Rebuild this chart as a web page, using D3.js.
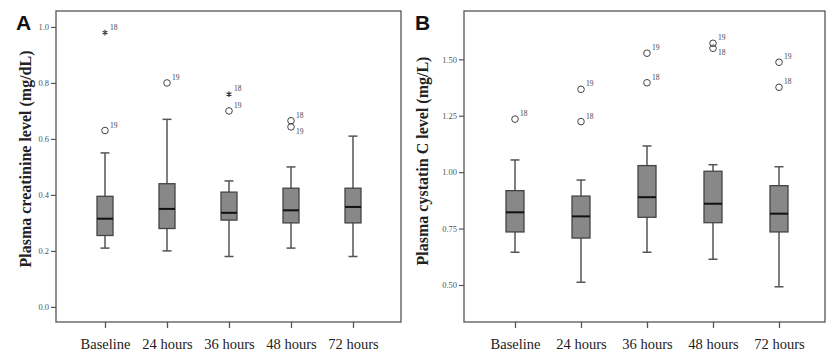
<!DOCTYPE html>
<html><head><meta charset="utf-8">
<script src="https://cdn.jsdelivr.net/npm/d3@7"></script>
<style>body{margin:0;background:#fff}svg{display:block}#c g.root{opacity:0.995}</style>
</head><body>
<svg id="c" width="830" height="351"></svg>
<script>
const categories = ["Baseline","24 hours","36 hours","48 hours","72 hours"];

// Panel A: plasma creatinine (mg/dL)
const creatWhiskerLow  = [0.21, 0.20, 0.18, 0.21, 0.18];
const creatQ1          = [0.255,0.28, 0.31, 0.30, 0.30];
const creatMedian      = [0.315,0.35, 0.336,0.345,0.357];
const creatQ3          = [0.395,0.44, 0.41, 0.424,0.424];
const creatWhiskerHigh = [0.55, 0.67, 0.45, 0.50, 0.61];
const creatOutCat   = ["Baseline","Baseline","24 hours","36 hours","36 hours","48 hours","48 hours"];
const creatOutValue = [0.98, 0.63, 0.80, 0.76, 0.70, 0.665, 0.643];
const creatOutId    = ["18","19","19","18","19","18","19"];
const creatOutType  = ["star","circle","circle","star","circle","circle","circle"];
const creatTicks = [0.0,0.2,0.4,0.6,0.8,1.0];

// Panel B: plasma cystatin C (mg/L)
const cysWhiskerLow  = [0.645,0.512,0.645,0.614,0.492];
const cysQ1          = [0.735,0.708,0.80, 0.776,0.735];
const cysMedian      = [0.822,0.804,0.889,0.86, 0.816];
const cysQ3          = [0.918,0.894,1.029,1.004,0.94];
const cysWhiskerHigh = [1.054,0.965,1.116,1.033,1.024];
const cysOutCat   = ["Baseline","24 hours","24 hours","36 hours","36 hours","48 hours","48 hours","72 hours","72 hours"];
const cysOutValue = [1.235,1.367,1.224,1.527,1.396,1.571,1.549,1.487,1.376];
const cysOutId    = ["18","19","18","19","18","19","18","19","18"];
const cysOutType  = ["circle","circle","circle","circle","circle","circle","circle","circle","circle"];
const cysTicks = [0.50,0.75,1.00,1.25,1.50];

const svg = d3.select("#c");
const root = svg.append("g").attr("class","root");
const serif = "'Liberation Serif','Times New Roman',serif";

function panel(o){
  const g = root.append("g");
  const x = d3.scalePoint().domain(categories).range([o.x0+o.padL, o.x1-o.padR]);
  const y = d3.scaleLinear().domain(o.domain).range([o.y1, o.y0]);

  // frame
  g.append("rect").attr("x",o.x0).attr("y",o.y0).attr("width",o.x1-o.x0).attr("height",o.y1-o.y0)
    .attr("fill","none").attr("stroke","#555").attr("stroke-width",1.3);

  // y axis
  const ya = g.append("g").attr("transform",`translate(${o.x0},0)`)
    .call(d3.axisLeft(y).tickValues(o.ticks).tickFormat(d3.format(o.fmt)).tickSize(5).tickPadding(2));
  ya.select(".domain").remove();
  ya.selectAll("line").attr("stroke","#555").attr("stroke-width",1.2);
  ya.selectAll("text").attr("font-family",serif).attr("font-size",8.5).attr("fill","#555");

  // x axis
  const xa = g.append("g").attr("transform",`translate(0,${o.y1})`)
    .call(d3.axisBottom(x).tickSize(6));
  xa.select(".domain").remove();
  xa.selectAll("line").attr("stroke","#555").attr("stroke-width",1.3);
  xa.selectAll("text").attr("y",27).attr("dy",0).attr("font-family",serif).attr("font-size",14.5).attr("fill","#222");

  // y title
  g.append("text").attr("transform",`translate(${o.titleX},${o.titleY}) rotate(-90)`)
    .attr("text-anchor","middle").attr("font-family",serif).attr("font-weight","bold")
    .attr("font-size",16).attr("fill","#222").text(o.title);

  // panel letter
  g.append("text").attr("x",o.letterX).attr("y",30).attr("font-family","'Liberation Sans',Arial,sans-serif")
    .attr("font-weight","bold").attr("font-size",21).attr("fill","#111").text(o.letter);

  // boxes
  const bw = o.boxW, cw = o.capW;
  categories.forEach((c,i)=>{
    const cx = x(c);
    const bg = g.append("g");
    bg.append("line").attr("x1",cx).attr("x2",cx).attr("y1",y(o.wl[i])).attr("y2",y(o.q1[i]))
      .attr("stroke","#555").attr("stroke-width",1.5);
    bg.append("line").attr("x1",cx).attr("x2",cx).attr("y1",y(o.q3[i])).attr("y2",y(o.wh[i]))
      .attr("stroke","#555").attr("stroke-width",1.5);
    [o.wl[i],o.wh[i]].forEach(v=>bg.append("line").attr("x1",cx-cw/2).attr("x2",cx+cw/2)
      .attr("y1",y(v)).attr("y2",y(v)).attr("stroke","#555").attr("stroke-width",1.5));
    bg.append("rect").attr("x",cx-bw/2).attr("y",y(o.q3[i])).attr("width",bw)
      .attr("height",y(o.q1[i])-y(o.q3[i])).attr("fill","#888").attr("stroke","#444").attr("stroke-width",1.3);
    bg.append("line").attr("x1",cx-bw/2).attr("x2",cx+bw/2).attr("y1",y(o.med[i])).attr("y2",y(o.med[i]))
      .attr("stroke","#111").attr("stroke-width",2);
  });

  // outliers
  o.oc.forEach((c,i)=>{
    const cx = x(c), cy = y(o.ov[i]);
    if(o.ot[i]==="circle"){
      g.append("circle").attr("cx",cx).attr("cy",cy).attr("r",3.3).attr("fill","none")
        .attr("stroke","#444").attr("stroke-width",1);
    } else {
      g.append("path").attr("transform",`translate(${cx},${cy})`)
        .attr("d",d3.symbol(d3.symbolAsterisk,22)()).attr("stroke","#333").attr("stroke-width",1.1).attr("fill","none");
    }
    const closeAbove = o.oc.some((c2,j)=>j!==i && c2===c && o.ov[j]>o.ov[i] && (y(o.ov[i])-y(o.ov[j]))<10);
    g.append("text").attr("x",cx+5).attr("y",closeAbove? cy+7 : cy-3)
      .attr("font-family",serif).attr("font-size",7.5).attr("fill","#444").text(o.oid[i]);
  });
}

panel({x0:56,x1:401,y0:11,y1:322,padL:49,padR:48,domain:[-0.054,1.057],ticks:creatTicks,fmt:".1f",
  title:"Plasma creatinine level (mg/dL)",titleX:31,titleY:159,letter:"A",letterX:16,boxW:16,capW:9,
  wl:creatWhiskerLow,q1:creatQ1,med:creatMedian,q3:creatQ3,wh:creatWhiskerHigh,
  oc:creatOutCat,ov:creatOutValue,oid:creatOutId,ot:creatOutType});

panel({x0:464,x1:825,y0:11,y1:322,padL:51,padR:46,domain:[0.336,1.714],ticks:cysTicks,fmt:".2f",
  title:"Plasma cystatin C level (mg/L)",titleX:428,titleY:161,letter:"B",letterX:415,boxW:18,capW:9,
  wl:cysWhiskerLow,q1:cysQ1,med:cysMedian,q3:cysQ3,wh:cysWhiskerHigh,
  oc:cysOutCat,ov:cysOutValue,oid:cysOutId,ot:cysOutType});
</script>
</body></html>
